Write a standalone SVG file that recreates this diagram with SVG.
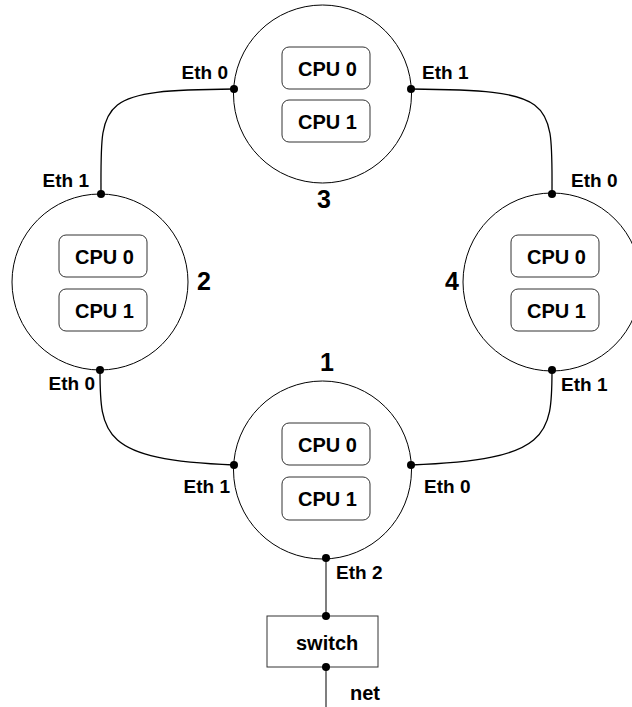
<svg xmlns="http://www.w3.org/2000/svg" width="632" height="707" viewBox="0 0 632 707">
<style>
text{font-family:"Liberation Sans",Arial,sans-serif;font-weight:bold;fill:#000}
.eth{font-size:19px}
.cpu{font-size:20px}
.num{font-size:25px}
.node{fill:none;stroke:#000;stroke-width:1}
.cpubox{fill:#fff;stroke:#333;stroke-width:1}
.wire{fill:none;stroke:#000;stroke-width:1.3}
.gwire{fill:none;stroke:#555;stroke-width:1.5}
.dot{fill:#000}
</style>
<rect width="632" height="707" fill="#fff"/>
<g id="connectors">
<path class="wire" d="M234,89 C95,90 101,100 101,194"/>
<path class="wire" d="M411,89 C558,90 552,100 552,194"/>
<path class="wire" d="M100,370 C100,435 102,460 234,465"/>
<path class="wire" d="M552,370 C552,435 550,460 411,465"/>
<path class="gwire" d="M326,559 L326,616"/>
<path class="gwire" d="M326,667 L326,707"/>
</g>
<g id="node3">
<circle class="node" cx="322.5" cy="94" r="89"/>
<rect class="cpubox" x="282" y="47" width="88" height="42" rx="7"/>
<rect class="cpubox" x="282" y="100" width="88" height="42" rx="7"/>
<text class="cpu" x="298" y="76">CPU 0</text>
<text class="cpu" x="298" y="129">CPU 1</text>
<text class="num" x="317" y="208">3</text>
<text class="eth" x="228" y="79" text-anchor="end">Eth 0</text>
<text class="eth" x="422" y="79">Eth 1</text>
<circle class="dot" cx="234" cy="89" r="4"/>
<circle class="dot" cx="411" cy="89" r="4"/>
</g>
<g id="node2">
<circle class="node" cx="100" cy="282" r="88"/>
<rect class="cpubox" x="59" y="235" width="88" height="42" rx="7"/>
<rect class="cpubox" x="59" y="289" width="88" height="42" rx="7"/>
<text class="cpu" x="75" y="264">CPU 0</text>
<text class="cpu" x="75" y="318">CPU 1</text>
<text class="num" x="197" y="290">2</text>
<text class="eth" x="89" y="187" text-anchor="end">Eth 1</text>
<text class="eth" x="95" y="390" text-anchor="end">Eth 0</text>
<circle class="dot" cx="101" cy="194" r="4"/>
<circle class="dot" cx="100" cy="370" r="4"/>
</g>
<g id="node4">
<circle class="node" cx="552" cy="282" r="89"/>
<rect class="cpubox" x="511" y="235" width="88" height="42" rx="7"/>
<rect class="cpubox" x="511" y="289" width="88" height="42" rx="7"/>
<text class="cpu" x="527" y="264">CPU 0</text>
<text class="cpu" x="527" y="318">CPU 1</text>
<text class="num" x="445" y="290">4</text>
<text class="eth" x="571" y="187">Eth 0</text>
<text class="eth" x="561" y="391">Eth 1</text>
<circle class="dot" cx="552" cy="194" r="4"/>
<circle class="dot" cx="552" cy="370" r="4"/>
</g>
<g id="node1">
<circle class="node" cx="322.5" cy="470" r="89"/>
<rect class="cpubox" x="282" y="423" width="88" height="42" rx="7"/>
<rect class="cpubox" x="282" y="477" width="88" height="43" rx="7"/>
<text class="cpu" x="298" y="452">CPU 0</text>
<text class="cpu" x="298" y="506">CPU 1</text>
<text class="num" x="327" y="371" text-anchor="middle">1</text>
<text class="eth" x="230" y="493" text-anchor="end">Eth 1</text>
<text class="eth" x="424" y="493">Eth 0</text>
<text class="eth" x="336" y="579">Eth 2</text>
<circle class="dot" cx="234" cy="465" r="4"/>
<circle class="dot" cx="411" cy="465" r="4"/>
<circle class="dot" cx="326" cy="558" r="4"/>
</g>
<g id="switch">
<rect x="267" y="616" width="111" height="51" fill="#fff" stroke="#333" stroke-width="1"/>
<text class="cpu" x="296" y="650">switch</text>
<text class="cpu" x="350" y="700">net</text>
<circle class="dot" cx="326" cy="616" r="4"/>
<circle class="dot" cx="326" cy="667" r="4"/>
</g>
</svg>
